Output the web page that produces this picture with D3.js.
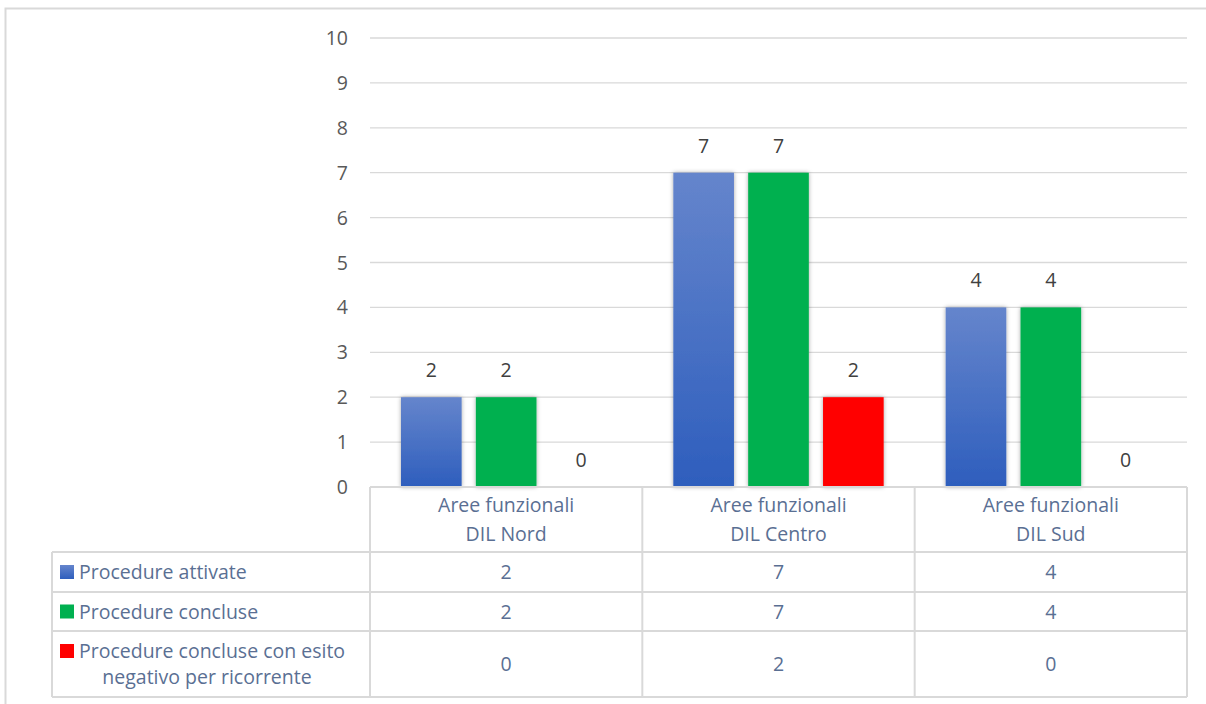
<!DOCTYPE html>
<html>
<head>
<meta charset="utf-8">
<script src="https://cdn.jsdelivr.net/npm/d3@7"></script>
<style>
  body { margin: 0; background: #fff; }
  svg { display: block; font-family: "Open Sans", Lato, sans-serif; }
</style>
</head>
<body>
<svg id="svg"></svg>
<script>
const svg = d3.select("#svg")
    .attr("width", 1206)
    .attr("height", 704)

// data
const categories = [["Aree funzionali", "DIL Nord"], ["Aree funzionali", "DIL Centro"], ["Aree funzionali", "DIL Sud"]]
const seriesNames = ["Procedure attivate", "Procedure concluse", "Procedure concluse con esito negativo per ricorrente"]
const attivate = [2, 7, 4]
const concluse = [2, 7, 4]
const negative = [0, 2, 0]
const yTicks = [0, 1, 2, 3, 4, 5, 6, 7, 8, 9, 10]

const series = [attivate, concluse, negative]
const colors = ["#4472c4", "#00b050", "#ff0000"]

const plotLeft = 370, plotRight = 1187, plotTop = 38, plotBottom = 487
const gridColor = "#d9d9d9"
const fs = 19.5

// outer frame
svg.append("path")
    .attr("d", "M5.5,704 V8.5 H1206")
    .attr("fill", "none")
    .attr("stroke", gridColor)
    .attr("stroke-width", 2)

const defs = svg.append("defs")
const grad = defs.append("linearGradient")
    .attr("id", "blueGrad")
    .attr("x1", 0).attr("y1", 0).attr("x2", 0).attr("y2", 1)
grad.append("stop").attr("offset", "0%").attr("stop-color", "#6585cc")
grad.append("stop").attr("offset", "100%").attr("stop-color", "#2e5ebd")

const shadow = defs.append("filter").attr("id", "shadow")
    .attr("x", "-20%").attr("y", "-10%").attr("width", "140%").attr("height", "120%")
shadow.append("feDropShadow")
    .attr("dx", 0).attr("dy", 0).attr("stdDeviation", 2.2)
    .attr("flood-color", "#000").attr("flood-opacity", 0.35)

const y = d3.scaleLinear().domain([0, 10]).range([plotBottom, plotTop])
const x = d3.scaleBand().domain(d3.range(categories.length)).range([plotLeft, plotRight])
const xInner = d3.scaleBand().domain(d3.range(series.length))
    .range([31, x.bandwidth() - 31]).paddingInner(0.19)

// grid
svg.append("g").selectAll("line")
    .data(yTicks.filter(t => t > 0))
    .join("line")
    .attr("x1", plotLeft).attr("x2", plotRight)
    .attr("y1", d => y(d)).attr("y2", d => y(d))
    .attr("stroke", gridColor).attr("stroke-width", 1.3)

// y labels
svg.append("g").selectAll("text")
    .data(yTicks)
    .join("text")
    .attr("x", 348)
    .attr("y", d => y(d))
    .attr("dy", "0.36em")
    .attr("text-anchor", "end")
    .attr("font-size", fs)
    .attr("fill", "#595959")
    .text(d => d)

// bars
series.forEach((vals, s) => {
    const pts = vals.map((v, i) => ({ v, i }))
    const g = svg.append("g")
    g.selectAll("rect")
        .data(pts.filter(d => d.v > 0))
        .join("rect")
        .attr("x", d => x(d.i) + xInner(s))
        .attr("y", d => y(d.v))
        .attr("width", xInner.bandwidth())
        .attr("height", d => y(0) - y(d.v))
        .attr("fill", s === 0 ? "url(#blueGrad)" : colors[s])
        .attr("filter", "url(#shadow)")
    g.selectAll("text")
        .data(pts)
        .join("text")
        .attr("x", d => x(d.i) + xInner(s) + xInner.bandwidth() / 2)
        .attr("y", d => y(d.v) - 20)
        .attr("text-anchor", "middle")
        .attr("font-size", fs)
        .attr("fill", "#404040")
        .text(d => d.v)
})

// data table
const rows = [487, 552, 592, 631, 697]
const tableLeft = 52
const tcolor = "#5a6f93"
const table = svg.append("g").attr("stroke", gridColor).attr("stroke-width", 2).attr("fill", "none")
table.append("line").attr("x1", plotLeft).attr("x2", plotRight).attr("y1", rows[0]).attr("y2", rows[0])
rows.slice(1).forEach(r => {
    table.append("line").attr("x1", tableLeft).attr("x2", plotRight).attr("y1", r).attr("y2", r)
})
table.append("line").attr("x1", tableLeft).attr("x2", tableLeft).attr("y1", rows[1]).attr("y2", rows[4])
d3.range(categories.length + 1).forEach(i => {
    const xx = i < categories.length ? x(i) : plotRight
    table.append("line").attr("x1", xx).attr("x2", xx).attr("y1", rows[0]).attr("y2", rows[4])
})

// header
categories.forEach((c, i) => {
    const t = svg.append("text")
        .attr("x", x(i) + x.bandwidth() / 2)
        .attr("y", 512)
        .attr("text-anchor", "middle")
        .attr("font-size", fs)
        .attr("fill", tcolor)
    c.forEach((line, j) => t.append("tspan").attr("x", x(i) + x.bandwidth() / 2).attr("dy", j ? 29 : 0).text(line))
})

// legend rows
const legendLines = [[seriesNames[0]], [seriesNames[1]], ["Procedure concluse con esito", "negativo per ricorrente"]]
series.forEach((vals, s) => {
    const r0 = rows[s + 1], r1 = rows[s + 2]
    const mid = (r0 + r1) / 2
    const lines = legendLines[s]
    const firstY = lines.length > 1 ? mid - 13 : mid
    svg.append("rect")
        .attr("x", 60).attr("y", firstY - 7)
        .attr("width", 14).attr("height", 14)
        .attr("fill", s === 0 ? "url(#blueGrad)" : colors[s])
    lines.forEach((line, j) => {
        svg.append("text")
            .attr("x", j === 0 ? 79 : 207)
            .attr("y", firstY + j * 26)
            .attr("dy", "0.36em")
            .attr("text-anchor", j === 0 ? "start" : "middle")
            .attr("font-size", fs)
            .attr("fill", tcolor)
            .text(line)
    })
    vals.forEach((v, i) => {
        svg.append("text")
            .attr("x", x(i) + x.bandwidth() / 2)
            .attr("y", mid)
            .attr("dy", "0.36em")
            .attr("text-anchor", "middle")
            .attr("font-size", fs)
            .attr("fill", tcolor)
            .text(v)
    })
})
</script>
</body>
</html>
